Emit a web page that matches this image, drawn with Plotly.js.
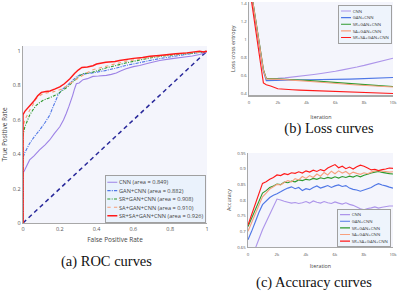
<!DOCTYPE html>
<html>
<head>
<meta charset="utf-8">
<script src="https://cdn.plot.ly/plotly-3.0.1.min.js"></script>
<style>
html,body{margin:0;padding:0;background:#fff;overflow:hidden;width:400px;height:291px;}
#wrap{width:1200px;height:873px;transform:scale(0.333333);transform-origin:0 0;}
#chart{width:1200px;height:873px;}
</style>
</head>
<body>
<div id="wrap"><div id="chart"></div></div>
<script>
// ---------- ROC data ----------
const rocNames = ['CNN (area = 0.849)', 'GAN+CNN (area = 0.882)', 'SR+GAN+CNN (area = 0.908)', 'SA+GAN+CNN (area = 0.910)', 'SR+SA+GAN+CNN (area = 0.926)'];
const rocCnnFpr = [0, 0, 0.01, 0.036, 0.06, 0.09, 0.12, 0.145, 0.17, 0.2, 0.22, 0.235, 0.25, 0.27, 0.28, 0.29, 0.305, 0.326, 0.35, 0.38, 0.41, 0.453, 0.48, 0.507, 0.53, 0.56, 0.6, 0.634, 0.68, 0.743, 0.8, 0.87, 0.92, 0.96, 0.985, 1.0];
const rocCnnTpr = [0, 0.29, 0.31, 0.367, 0.39, 0.425, 0.455, 0.483, 0.52, 0.56, 0.6, 0.637, 0.68, 0.743, 0.78, 0.81, 0.815, 0.834, 0.84, 0.853, 0.855, 0.859, 0.865, 0.873, 0.885, 0.898, 0.91, 0.917, 0.93, 0.946, 0.955, 0.965, 0.972, 0.981, 0.99, 0.995];
const rocGanFpr = [0, 0, 0.01, 0.036, 0.06, 0.09, 0.12, 0.145, 0.165, 0.19, 0.21, 0.235, 0.26, 0.29, 0.31, 0.344, 0.37, 0.4, 0.453, 0.5, 0.56, 0.62, 0.69, 0.75, 0.815, 0.88, 0.96, 1.0];
const rocGanTpr = [0, 0.38, 0.41, 0.463, 0.5, 0.54, 0.585, 0.627, 0.68, 0.743, 0.775, 0.795, 0.82, 0.85, 0.862, 0.869, 0.872, 0.878, 0.888, 0.9, 0.917, 0.93, 0.946, 0.958, 0.969, 0.98, 0.992, 1.0];
const rocSrFpr = [0, 0, 0.01, 0.036, 0.055, 0.072, 0.09, 0.11, 0.135, 0.163, 0.19, 0.217, 0.24, 0.27, 0.3, 0.326, 0.35, 0.38, 0.42, 0.453, 0.5, 0.56, 0.62, 0.69, 0.75, 0.815, 0.88, 0.96, 1.0];
const rocSrTpr = [0, 0.51, 0.56, 0.627, 0.66, 0.685, 0.7, 0.714, 0.725, 0.737, 0.752, 0.772, 0.79, 0.82, 0.85, 0.869, 0.872, 0.878, 0.892, 0.903, 0.915, 0.932, 0.945, 0.961, 0.97, 0.977, 0.985, 0.992, 1.0];
const rocSaFpr = [0, 0, 0.01, 0.036, 0.055, 0.072, 0.09, 0.11, 0.135, 0.163, 0.19, 0.217, 0.254, 0.28, 0.31, 0.34, 0.38, 0.42, 0.453, 0.5, 0.56, 0.62, 0.69, 0.75, 0.815, 0.88, 0.96, 1.0];
const rocSaTpr = [0, 0.56, 0.6, 0.656, 0.69, 0.724, 0.74, 0.753, 0.758, 0.763, 0.772, 0.782, 0.81, 0.83, 0.849, 0.87, 0.892, 0.903, 0.911, 0.925, 0.942, 0.952, 0.965, 0.973, 0.981, 0.988, 0.994, 1.0];
const rocAllFpr = [0, 0, 0.01, 0.03, 0.056, 0.08, 0.1, 0.125, 0.147, 0.175, 0.2, 0.225, 0.255, 0.28, 0.3, 0.32, 0.35, 0.38, 0.4, 0.45, 0.5, 0.525, 0.6, 0.65, 0.69, 0.74, 0.78, 0.83, 0.89, 0.93, 0.96, 0.98, 1.0];
const rocAllTpr = [0, 0.63, 0.65, 0.675, 0.705, 0.74, 0.76, 0.765, 0.768, 0.78, 0.792, 0.81, 0.84, 0.87, 0.89, 0.905, 0.908, 0.915, 0.925, 0.935, 0.94, 0.946, 0.958, 0.963, 0.97, 0.975, 0.98, 0.985, 0.99, 0.995, 1.0, 0.995, 1.0];
const diagX = [0, 1];
const diagY = [0, 1];

// ---------- Loss data ----------
const seriesNames = ['CNN', 'GAN+CNN', 'SR+GAN+CNN', 'SA+GAN+CNN', 'SR+SA+GAN+CNN'];
const lossIter = [0, 1000, 1200, 1500, 2000, 2500, 3000, 3500, 4000, 4500, 5000, 5500, 6000, 6500, 7000, 7500, 8000, 8500, 9000, 9500, 10000];
const lossCnn = [1.70, 0.66, 0.565, 0.566, 0.57, 0.576, 0.585, 0.594, 0.605, 0.614, 0.625, 0.637, 0.65, 0.665, 0.68, 0.697, 0.715, 0.735, 0.755, 0.775, 0.795];
const lossGan = [1.68, 0.65, 0.545, 0.547, 0.55, 0.551, 0.552, 0.553, 0.554, 0.555, 0.556, 0.557, 0.558, 0.56, 0.562, 0.565, 0.568, 0.57, 0.574, 0.577, 0.58];
const lossSr = [1.70, 0.67, 0.57, 0.568, 0.565, 0.562, 0.558, 0.553, 0.548, 0.542, 0.536, 0.53, 0.525, 0.52, 0.513, 0.507, 0.5, 0.495, 0.49, 0.485, 0.48];
const lossSa = [1.69, 0.66, 0.565, 0.562, 0.56, 0.556, 0.551, 0.545, 0.54, 0.533, 0.527, 0.52, 0.514, 0.508, 0.502, 0.497, 0.492, 0.487, 0.483, 0.478, 0.474];
const lossAll = [1.62, 0.52, 0.5, 0.485, 0.455, 0.448, 0.444, 0.44, 0.437, 0.433, 0.43, 0.427, 0.425, 0.422, 0.42, 0.417, 0.414, 0.411, 0.408, 0.405, 0.402];

// ---------- Accuracy data ----------
const accIter = [0, 250, 500, 750, 1000, 1250, 1500, 1750, 2000, 2250, 2500, 2750, 3000, 3250, 3500, 3750, 4000, 4250, 4500, 4750, 5000, 5250, 5500, 5750, 6000, 6250, 6500, 6750, 7000, 7250, 7500, 7750, 8000, 8250, 8500, 8750, 9000, 9250, 9500, 9750, 10000];
const accCnn = [0.59, 0.615, 0.645, 0.675, 0.705, 0.73, 0.755, 0.78, 0.803, 0.8, 0.796, 0.793, 0.79, 0.792, 0.789, 0.791, 0.795, 0.79, 0.797, 0.793, 0.79, 0.795, 0.791, 0.789, 0.794, 0.79, 0.787, 0.791, 0.786, 0.783, 0.778, 0.772, 0.769, 0.773, 0.775, 0.778, 0.774, 0.777, 0.779, 0.781, 0.781];
const accGan = [0.673, 0.70, 0.73, 0.76, 0.785, 0.797, 0.808, 0.815, 0.82, 0.826, 0.833, 0.838, 0.842, 0.836, 0.84, 0.83, 0.836, 0.833, 0.84, 0.845, 0.838, 0.842, 0.846, 0.84, 0.845, 0.848, 0.843, 0.846, 0.838, 0.834, 0.832, 0.828, 0.832, 0.836, 0.84, 0.847, 0.852, 0.848, 0.845, 0.841, 0.838];
const accSr = [0.715, 0.742, 0.77, 0.796, 0.822, 0.83, 0.84, 0.845, 0.851, 0.849, 0.857, 0.855, 0.86, 0.858, 0.864, 0.862, 0.866, 0.864, 0.869, 0.866, 0.871, 0.868, 0.872, 0.869, 0.874, 0.87, 0.875, 0.872, 0.876, 0.873, 0.878, 0.874, 0.879, 0.882, 0.886, 0.889, 0.891, 0.888, 0.886, 0.884, 0.883];
const accSa = [0.70, 0.728, 0.755, 0.783, 0.81, 0.822, 0.835, 0.842, 0.85, 0.848, 0.856, 0.862, 0.858, 0.868, 0.864, 0.875, 0.869, 0.878, 0.872, 0.883, 0.876, 0.888, 0.88, 0.892, 0.884, 0.893, 0.886, 0.891, 0.882, 0.889, 0.885, 0.882, 0.887, 0.884, 0.889, 0.893, 0.894, 0.892, 0.891, 0.889, 0.89];
const accAll = [0.72, 0.753, 0.786, 0.82, 0.853, 0.858, 0.866, 0.872, 0.88, 0.878, 0.884, 0.881, 0.887, 0.885, 0.89, 0.886, 0.893, 0.889, 0.895, 0.891, 0.897, 0.893, 0.902, 0.908, 0.913, 0.903, 0.908, 0.9, 0.905, 0.899, 0.906, 0.911, 0.908, 0.902, 0.896, 0.898, 0.894, 0.897, 0.899, 0.902, 0.901];

// ---------- styles ----------
const colors = ['#9d82e6', '#4f77e6', '#2e9a2e', '#f79c74', '#ff1a1a'];
const smallColors = ['#ad95ea', '#4f77e6', '#2e9a2e', '#f7a07e', '#ff1a1a'];
const rocDash = ['solid', 'dashdot', '9px,4px,3px,4px', 'dash', 'solid'];
const rocWidth = [3.3, 3.3, 3.3, 3.3, 4.3];

const rocX = [rocCnnFpr, rocGanFpr, rocSrFpr, rocSaFpr, rocAllFpr];
const rocY = [rocCnnTpr, rocGanTpr, rocSrTpr, rocSaTpr, rocAllTpr];
const lossY = [lossCnn, lossGan, lossSr, lossSa, lossAll];
const accY = [accCnn, accGan, accSr, accSa, accAll];

const traces = [];
traces.push({x: diagX, y: diagY, mode: 'lines', showlegend: false, xaxis: 'x', yaxis: 'y',
  line: {color: '#28289a', width: 4.5, dash: '13px,10px'}, hoverinfo: 'skip'});
for (let i = 0; i < 5; i++) {
  traces.push({x: rocX[i], y: rocY[i], name: rocNames[i], mode: 'lines', xaxis: 'x', yaxis: 'y',
    legend: 'legend', line: {color: colors[i], width: rocWidth[i], dash: rocDash[i]}});
}
for (let i = 0; i < 5; i++) {
  traces.push({x: lossIter, y: lossY[i], name: seriesNames[i], mode: 'lines', xaxis: 'x2', yaxis: 'y2',
    legend: 'legend2', line: {color: smallColors[i], width: 3.4}});
}
for (let i = 0; i < 5; i++) {
  traces.push({x: accIter, y: accY[i], name: seriesNames[i], mode: 'lines', xaxis: 'x3', yaxis: 'y3',
    legend: 'legend3', line: {color: smallColors[i], width: 3.4}});
}

const fontFam = '"Open Sans", Arial, sans-serif';
function axisBase(tickSize, titleSize) {
  return {showgrid: false, zeroline: false, showline: true, linecolor: '#a8a8a8', linewidth: 4,
    ticks: '', tickfont: {family: fontFam, size: tickSize, color: '#555'},
    title: {font: {family: fontFam, size: titleSize, color: '#444'}}};
}
const W = 400, H = 291;
function px2x(p) { return p / W; }
function px2y(p) { return 1 - p / H; }

const layout = {
  width: 1200, height: 873, autosize: false,
  margin: {l: 0, r: 0, t: 0, b: 0},
  paper_bgcolor: '#ffffff', plot_bgcolor: '#f4f5fc',
  font: {family: fontFam, color: '#444'},
  xaxis: Object.assign(axisBase(16.5, 19.5), {domain: [px2x(23), px2x(207)], range: [0, 1], dtick: 0.2, anchor: 'y'}),
  yaxis: Object.assign(axisBase(16.5, 19.5), {domain: [px2y(223), px2y(46)], range: [0, 1.03], dtick: 0.2, anchor: 'x'}),
  xaxis2: Object.assign(axisBase(13, 16), {domain: [px2x(249), px2x(393)], range: [0, 10000], dtick: 2000, anchor: 'y2', ticklabelstandoff: 6}),
  yaxis2: Object.assign(axisBase(13, 16), {domain: [px2y(95.5), px2y(2)], range: [0.38, 1.42], dtick: 0.2, anchor: 'x2'}),
  xaxis3: Object.assign(axisBase(13, 16), {domain: [px2x(248), px2x(393)], range: [0, 10000], dtick: 2000, anchor: 'y3', ticklabelstandoff: 6}),
  yaxis3: Object.assign(axisBase(13, 16), {domain: [px2y(247), px2y(153)], range: [0.65, 0.95], dtick: 0.05, anchor: 'x3'}),
  legend: {x: px2x(206), xanchor: 'right', y: px2y(222.7), yanchor: 'bottom', bgcolor: '#eaf2fc', bordercolor: '#a0a0a0', borderwidth: 3,
    font: {family: fontFam, size: 17, color: '#444'}},
  legend2: {x: px2x(391.7), xanchor: 'right', y: px2y(5), yanchor: 'top', bgcolor: '#eef4fc', bordercolor: '#a0a0a0', borderwidth: 3,
    font: {family: fontFam, size: 13, color: '#444'}},
  legend3: {x: px2x(390.7), xanchor: 'right', y: px2y(247.3), yanchor: 'bottom', bgcolor: '#eef4fc', bordercolor: '#a0a0a0', borderwidth: 3,
    font: {family: fontFam, size: 13, color: '#444'}},
  annotations: [
    {text: '(a) ROC curves', x: px2x(106.5), y: px2y(261), xref: 'paper', yref: 'paper', showarrow: false,
      xanchor: 'center', yanchor: 'middle', font: {family: '"Liberation Serif", "Times New Roman", serif', size: 43.5, color: '#111'}},
    {text: '(b) Loss curves', x: px2x(329), y: px2y(128), xref: 'paper', yref: 'paper', showarrow: false,
      xanchor: 'center', yanchor: 'middle', font: {family: '"Liberation Serif", "Times New Roman", serif', size: 43.5, color: '#111'}},
    {text: '(c) Accuracy curves', x: px2x(314), y: px2y(281.7), xref: 'paper', yref: 'paper', showarrow: false,
      xanchor: 'center', yanchor: 'middle', font: {family: '"Liberation Serif", "Times New Roman", serif', size: 43.5, color: '#111'}}
  ]
};
layout.xaxis.title.text = 'False Positive Rate';
layout.yaxis.title.text = 'True Positive Rate';
layout.xaxis2.title.text = 'Iteration';
layout.yaxis2.title.text = 'Loss cross entropy';
layout.xaxis3.title.text = 'Iteration';
layout.yaxis3.title.text = 'Accuracy';
layout.xaxis.title.standoff = 18;
layout.yaxis.title.standoff = 18;
layout.xaxis2.title.standoff = 32;
layout.xaxis3.title.standoff = 24;
layout.yaxis2.title.standoff = 12;
layout.yaxis3.title.standoff = 14;

Plotly.newPlot('chart', traces, layout, {staticPlot: true, displayModeBar: false});
</script>
</body>
</html>
